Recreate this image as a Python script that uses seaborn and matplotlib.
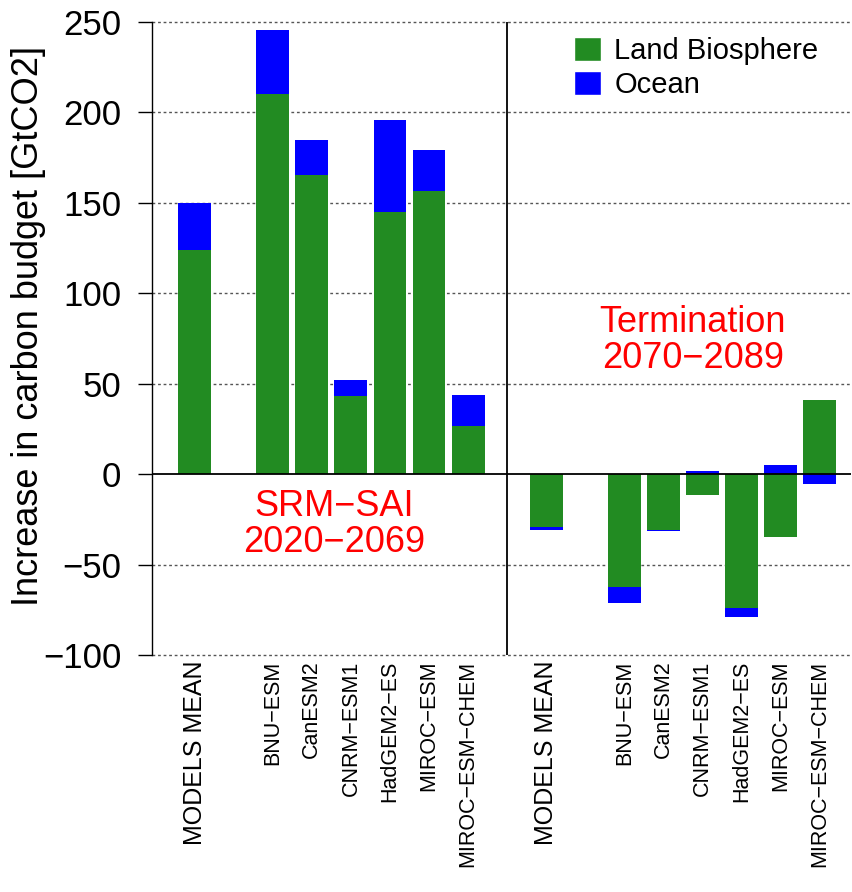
import numpy as np
import pandas as pd
import matplotlib
matplotlib.use("Agg")
import matplotlib.pyplot as plt
import seaborn as sns
from matplotlib.patches import Patch

# model names (same order in both periods)
modeller = ["MODELS MEAN", "BNU−ESM", "CanESM2", "CNRM−ESM1",
            "HadGEM2−ES", "MIROC−ESM", "MIROC−ESM−CHEM"]

# SRM-SAI 2020-2069
kara_sai = [124, 210, 165.5, 43, 145, 156.5, 26.5]
okyanus_sai = [26, 35.5, 19.5, 9, 51, 23, 17]

# Termination 2070-2089
kara_term = [-29, -62.5, -30.8, -11.6, -74, -35, 41]
okyanus_term = [-2, -9, -0.7, 1.8, -5, 5.1, -5.4]

yesil = "#228B22"
mavi = "#0000FF"

sns.set_style("white")
plt.rcParams['font.family'] = ['Liberation Sans', 'DejaVu Sans']
plt.rcParams.update({'text.color': 'black', 'axes.labelcolor': 'black',
                     'xtick.color': 'black', 'ytick.color': 'black'})

# mean first, one empty slot, then models; a separator slot between periods
def konumlar(baslangic):
    return [baslangic] + [baslangic + 2 + i for i in range(len(modeller) - 1)]

poz_sai = konumlar(0)
poz_term = konumlar(len(poz_sai) + 2)
ayrac = len(poz_sai) + 1

df = pd.DataFrame({
    'x': poz_sai + poz_term,
    'Land': kara_sai + kara_term,
    'Ocean': okyanus_sai + okyanus_term,
})
# ocean sits on top of land when both have the same sign
ayni_isaret = np.sign(df['Land']) == np.sign(df['Ocean'])
df['OceanTop'] = np.where(ayni_isaret, df['Land'] + df['Ocean'], df['Ocean'])

fig = plt.figure(figsize=(8.52, 8.92), dpi=100)
ax = fig.add_axes([152 / 852, 1 - 655 / 892, (851 - 152) / 852, (655 - 22) / 892])

for y in [-100, -50, 50, 100, 150, 200, 250]:
    ax.axhline(y, color='#555555', lw=1, ls=(0, (2, 2)), zorder=0, clip_on=False)

sns.barplot(data=df, x='x', y='OceanTop', native_scale=True, color=mavi,
            saturation=1, width=0.84, errorbar=None, ax=ax, zorder=2,
            linewidth=0, edgecolor='none')
sns.barplot(data=df, x='x', y='Land', native_scale=True, color=yesil,
            saturation=1, width=0.84, errorbar=None, ax=ax, zorder=3,
            linewidth=0, edgecolor='none')

ax.axhline(0, color='black', lw=1.3, zorder=4)
ax.axvline(ayrac, color='black', lw=1.3, zorder=4)

ax.set_xlim(-1.09, 16.8)
ax.set_ylim(-100, 250)
ax.set_yticks([-100, -50, 0, 50, 100, 150, 200, 250])
ax.tick_params(axis='y', labelsize=25, length=10, width=1, pad=12, direction='out', left=True)
ax.tick_params(axis='x', length=0, pad=4)

ax.set_xticks(poz_sai + poz_term)
ax.set_xticklabels(modeller + modeller, rotation=90, va='top')
for lbl in ax.get_xticklabels():
    lbl.set_fontsize(18 if lbl.get_text() == "MODELS MEAN" else 15.5)

ax.set_xlabel('')
ax.set_ylabel('Increase in carbon budget [GtCO2]', fontsize=26)
ax.yaxis.set_label_coords(-0.152, 0.52)

for s in ['top', 'right', 'bottom']:
    ax.spines[s].set_visible(False)
ax.spines['left'].set_linewidth(1)
ax.spines['left'].set_color('black')

ax.text(3.57, -28, "SRM−SAI\n2020−2069", color='red', fontsize=26,
        ha='center', va='center', linespacing=1.05, zorder=5)
ax.text(12.75, 74, "Termination\n2070−2089", color='red', fontsize=26,
        ha='center', va='center', linespacing=1.05, zorder=5)

eller = [Patch(facecolor=yesil, label='Land Biosphere'),
         Patch(facecolor=mavi, label='Ocean')]
ax.legend(handles=eller, loc='upper left', bbox_to_anchor=(0.604, 0.977),
          frameon=False, fontsize=21, handlelength=0.93, handleheight=0.9,
          handletextpad=0.45, labelspacing=0.2, borderpad=0, borderaxespad=0)

fig.savefig('out.png', dpi=100)
